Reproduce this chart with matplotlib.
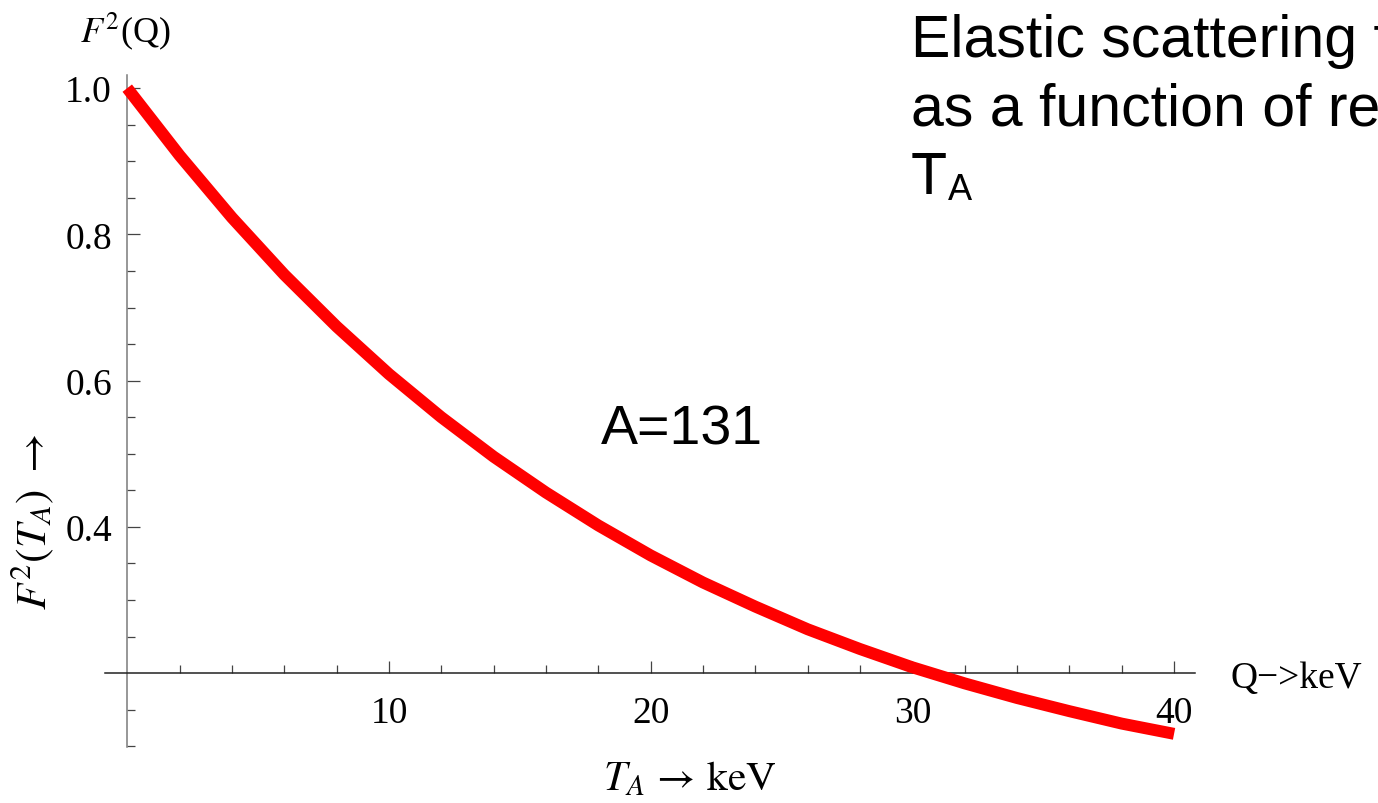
import numpy as np
import matplotlib
matplotlib.use("Agg")
import matplotlib.pyplot as plt

# recoil energy T_A [keV] and read-off form factor squared F^2 (A=131)
t_a = [0, 2, 4, 6, 8, 10, 12, 14, 16, 18, 20,
       22, 24, 26, 28, 30, 32, 34, 36, 38, 40]
f2 = [1.000, 0.908, 0.823, 0.745, 0.674, 0.609, 0.550, 0.496, 0.447, 0.402,
      0.361, 0.324, 0.291, 0.260, 0.233, 0.208, 0.186, 0.166, 0.148, 0.131,
      0.117]

x_major = [10, 20, 30, 40]
x_minor = [2, 4, 6, 8, 12, 14, 16, 18, 22, 24, 26, 28, 32, 34, 36, 38]
y_major = [0.4, 0.6, 0.8, 1.0]
y_major_labels = ["0.4", "0.6", "0.8", "1.0"]
y_minor = [0.10, 0.15, 0.25, 0.30, 0.35, 0.45, 0.50, 0.55,
           0.65, 0.70, 0.75, 0.85, 0.90, 0.95]

W, H = 1378, 804
plt.rcParams["mathtext.fontset"] = "stix"
plt.rcParams["font.family"] = ["Liberation Serif", "DejaVu Serif"]

fig = plt.figure(figsize=(W / 100, H / 100), dpi=100)
ax = fig.add_axes([105 / W, 1 - 748 / H, (1195 - 105) / W, (748 - 76) / H])

ax.plot(t_a, f2, color="#ff0000", lw=8.6, solid_capstyle="butt",
        solid_joinstyle="round", zorder=3)

ax.set_xlim(-0.85, 40.8)
ax.set_ylim(0.099, 1.018)

for side in ["top", "right"]:
    ax.spines[side].set_visible(False)
ax.spines["left"].set_position(("data", 0))
ax.spines["bottom"].set_position(("data", 0.2))
ax.spines["left"].set_color("#7a7a7a")
ax.spines["bottom"].set_color("#222222")
ax.spines["left"].set_linewidth(1.1)
ax.spines["bottom"].set_linewidth(1.1)

ax.set_xticks(x_major)
ax.set_xticklabels([str(v) for v in x_major])
ax.set_xticks(x_minor, minor=True)
ax.set_yticks(y_major)
ax.set_yticklabels(y_major_labels)
ax.set_yticks(y_minor, minor=True)

ax.tick_params(axis="both", which="major", direction="in", length=9,
               width=0.9, color="#444444", labelsize=27)
ax.tick_params(axis="both", which="minor", direction="in", length=6,
               width=0.9, color="#444444")
ax.tick_params(axis="y", which="major", pad=11)
ax.tick_params(axis="x", which="major", pad=16)


def fx(px):
    return px / W


def fy(py):
    return 1 - py / H


fig.text(fx(125), fy(31), r"$F^2$(Q)", fontsize=26, ha="center",
         va="center")
fig.text(fx(1230), fy(688), "Q\u2212>keV", fontsize=27, ha="left",
         va="baseline")
fig.text(fx(32), fy(522), r"$F^2(T_A)\ \rightarrow$", fontsize=31,
         rotation=90, ha="center", va="center")
fig.text(fx(690), fy(780), r"$T_A\,\rightarrow\,\mathrm{keV}$", fontsize=30,
         ha="center", va="center")

sans = ["Liberation Sans", "DejaVu Sans"]
fig.text(fx(601), fy(445), "A=131", fontsize=40, family=sans,
         ha="left", va="baseline")
fig.text(fx(911), fy(57), "Elastic scattering f", fontsize=42.5,
         family=sans, ha="left", va="baseline")
fig.text(fx(911), fy(125), "as a function of re", fontsize=42.5,
         family=sans, ha="left", va="baseline")
fig.text(fx(911), fy(194), "T", fontsize=42.5, family=sans,
         ha="left", va="baseline")
fig.text(fx(948), fy(200), "A", fontsize=26, family=sans,
         ha="left", va="baseline")

fig.savefig("out.png", dpi=100)
